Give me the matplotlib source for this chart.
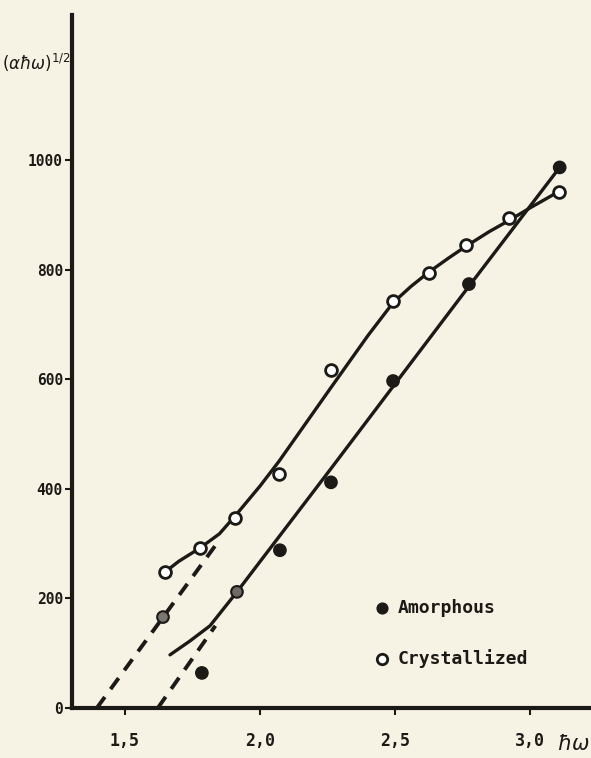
import matplotlib
matplotlib.use('Agg')
import matplotlib.pyplot as plt

# data (photon energy in eV, (alpha*hbar*omega)^1/2)
cryst_x = [1.648, 1.778, 1.907, 2.070, 2.263, 2.493, 2.626, 2.763, 2.922, 3.107]
cryst_y = [248, 292, 347, 428, 617, 743, 794, 845, 894, 943]
amorph_x = [1.641, 1.785, 1.915, 2.074, 2.263, 2.493, 2.774, 3.110]
amorph_y = [166, 64, 212, 288, 412, 597, 774, 987]

# hand-drawn fit curves
cryst_line_x = [1.648, 1.70, 1.778, 1.85, 1.907, 2.0, 2.07, 2.263, 2.40, 2.493, 2.56, 2.626, 2.70, 2.763, 2.85, 2.922, 3.0, 3.107]
cryst_line_y = [248, 268, 292, 318, 350, 405, 450, 585, 680, 740, 770, 796, 822, 843, 870, 890, 913, 943]
amorph_line_x = [1.667, 1.74, 1.815, 1.915, 2.0, 2.263, 2.493, 2.774, 3.110]
amorph_line_y = [97, 122, 150, 212, 267, 437, 587, 770, 987]

# dashed extrapolations to the energy axis
cryst_dash_x = [1.396, 1.84]
cryst_dash_y = [0, 300]
amorph_dash_x = [1.622, 1.835]
amorph_dash_y = [0, 150]

yticks = [0, 200, 400, 600, 800, 1000]
xticks = [1.5, 2.0, 2.5, 3.0]
xticklabels = ['1,5', '2,0', '2,5', '3,0']

bg = '#f6f2e4'
ink = '#1c1a17'

fig = plt.figure(figsize=(5.91, 7.58), dpi=100, facecolor=bg)
ax = fig.add_axes([0.1218, 0.066, 0.8782, 0.914], facecolor=bg)
ax.set_xlim(1.304, 3.226)
ax.set_ylim(0, 1265)

for s in ['top', 'right']:
    ax.spines[s].set_visible(False)
for s in ['left', 'bottom']:
    ax.spines[s].set_linewidth(3)
    ax.spines[s].set_color(ink)

ax.plot(cryst_line_x, cryst_line_y, color=ink, lw=2.4, solid_capstyle='round', zorder=2)
ax.plot(amorph_line_x, amorph_line_y, color=ink, lw=2.4, solid_capstyle='round', zorder=2)
ax.plot(cryst_dash_x, cryst_dash_y, color=ink, lw=2.8, dashes=(3.5, 2.5), zorder=2)
ax.plot(amorph_dash_x, amorph_dash_y, color=ink, lw=2.8, dashes=(3.5, 2.5), zorder=2)

ax.plot(cryst_x, cryst_y, 'o', ms=8.5, mfc='white', mec=ink, mew=2, zorder=3)
fills = ['#7a7770', ink, '#6e6b64'] + [ink] * (len(amorph_x) - 3)
ax.scatter(amorph_x, amorph_y, s=70, c=fills, edgecolors=ink, linewidths=1.5, zorder=3)

ax.set_yticks(yticks)
ax.set_yticklabels([str(v) for v in yticks])
ax.set_xticks(xticks)
ax.set_xticklabels(xticklabels)
ax.tick_params(axis='y', length=5, width=1.5, color=ink, pad=1.5, labelsize=10.5, labelcolor=ink)
ax.tick_params(axis='x', length=5, width=1.5, color=ink, pad=12, labelsize=12, labelcolor=ink)
for lab in ax.get_yticklabels() + ax.get_xticklabels():
    lab.set_fontweight('bold')
    lab.set_family('DejaVu Sans Mono')

ax.text(-0.003, 0.931, r'$(\alpha\hbar\omega)^{1/2}$', transform=ax.transAxes,
        ha='right', va='center', fontsize=12, color=ink)
ax.text(0.934, -0.052, r'$\hbar\omega$', transform=ax.transAxes,
        ha='left', va='center', fontsize=15, color=ink)

# legend drawn as plain text with markers
ax.scatter([0.597], [0.145], s=60, c=ink, transform=ax.transAxes, clip_on=False, zorder=3)
ax.plot([0.597], [0.071], 'o', ms=7.5, mfc='white', mec=ink, mew=2, transform=ax.transAxes, zorder=3)
ax.text(0.627, 0.145, 'Amorphous', transform=ax.transAxes, ha='left', va='center',
        fontsize=13, family='DejaVu Sans Mono', fontweight='bold', color=ink)
ax.text(0.627, 0.071, 'Crystallized', transform=ax.transAxes, ha='left', va='center',
        fontsize=13, family='DejaVu Sans Mono', fontweight='bold', color=ink)

fig.savefig('out.png', dpi=100, facecolor=bg)
